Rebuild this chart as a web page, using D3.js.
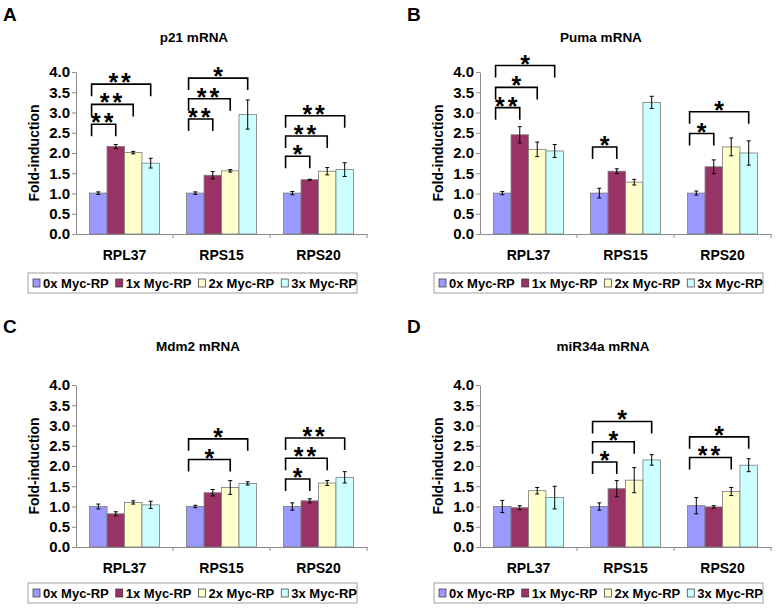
<!DOCTYPE html>
<html><head><meta charset="utf-8">
<script src="https://cdn.jsdelivr.net/npm/d3@7"></script>
<style>
html,body{margin:0;padding:0;background:#fff;}
svg text{font-family:"Liberation Sans",Arial,Helvetica,sans-serif;font-weight:bold;fill:#000;}
</style></head>
<body><svg id="c" width="777" height="608"></svg>
<script>
const categories = ["RPL37", "RPS15", "RPS20"];
const seriesNames = ["0x Myc-RP", "1x Myc-RP", "2x Myc-RP", "3x Myc-RP"];
const seriesColors = ["#9999ff", "#993366", "#ffffcc", "#ccffff"];
const yTicks = [0, 0.5, 1.0, 1.5, 2.0, 2.5, 3.0, 3.5, 4.0];

// values per category: [0x, 1x, 2x, 3x]
const p21Values = [[1.01, 2.16, 2.01, 1.75], [1.01, 1.45, 1.56, 2.95], [1.01, 1.34, 1.55, 1.59]];
const p21Errors = [[0.03, 0.05, 0.03, 0.12], [0.03, 0.09, 0.03, 0.36], [0.04, 0.01, 0.09, 0.17]];
// significance: [category index, compared series index, bracket level, label]
const p21Sig = [[0, 1, 2.71, "**"], [0, 2, 3.2, "**"], [0, 3, 3.7, "**"],
                [1, 1, 2.84, "**"], [1, 2, 3.34, "**"], [1, 3, 3.85, "*"],
                [2, 1, 1.92, "*"], [2, 2, 2.42, "**"], [2, 3, 2.92, "**"]];

const pumaValues = [[1.01, 2.45, 2.09, 2.05], [1.01, 1.55, 1.28, 3.25], [1.01, 1.66, 2.15, 2.0]];
const pumaErrors = [[0.04, 0.2, 0.18, 0.16], [0.12, 0.06, 0.07, 0.15], [0.05, 0.17, 0.22, 0.3]];
const pumaSig = [[0, 1, 3.12, "**"], [0, 2, 3.62, "*"], [0, 3, 4.16, "*"],
                 [1, 1, 2.15, "*"],
                 [2, 1, 2.48, "*"], [2, 3, 3.02, "*"]];

const mdm2Values = [[1.0, 0.82, 1.10, 1.04], [1.0, 1.34, 1.47, 1.57], [1.0, 1.14, 1.58, 1.72]];
const mdm2Errors = [[0.06, 0.05, 0.04, 0.09], [0.03, 0.08, 0.17, 0.04], [0.09, 0.05, 0.06, 0.14]];
const mdm2Sig = [[1, 2, 2.16, "*"], [1, 3, 2.67, "*"],
                 [2, 1, 1.68, "*"], [2, 2, 2.19, "**"], [2, 3, 2.69, "**"]];

const mirValues = [[1.0, 0.97, 1.39, 1.22], [1.0, 1.44, 1.65, 2.15], [1.02, 0.99, 1.37, 2.02]];
const mirErrors = [[0.15, 0.05, 0.08, 0.28], [0.09, 0.2, 0.31, 0.13], [0.2, 0.03, 0.1, 0.16]];
const mirSig = [[1, 1, 2.1, "*"], [1, 2, 2.6, "*"], [1, 3, 3.1, "*"],
                [2, 2, 2.21, "**"], [2, 3, 2.72, "*"]];

const panels = [
  {letter: "A", title: "p21 mRNA", values: p21Values, errors: p21Errors, sig: p21Sig,
   x0: 76, x1: 367, yTop: 72, yBot: 234, lx: 3, ly: 21, tx: 194, ty: 42, leg: [28, 273, 329, 20]},
  {letter: "B", title: "Puma mRNA", values: pumaValues, errors: pumaErrors, sig: pumaSig,
   x0: 480, x1: 771, yTop: 72, yBot: 234, lx: 407, ly: 21, tx: 601, ty: 42, leg: [434, 273, 329, 20]},
  {letter: "C", title: "Mdm2 mRNA", values: mdm2Values, errors: mdm2Errors, sig: mdm2Sig,
   x0: 76, x1: 367, yTop: 385, yBot: 547, lx: 3, ly: 333, tx: 198, ty: 351, leg: [28, 583, 329, 20]},
  {letter: "D", title: "miR34a mRNA", values: mirValues, errors: mirErrors, sig: mirSig,
   x0: 480, x1: 771, yTop: 385, yBot: 547, lx: 407, ly: 333, tx: 603, ty: 351, leg: [434, 583, 329, 20]}
];

const svg = d3.select("#c");
const axisColor = "#8c8c8c";

panels.forEach(p => {
  const g = svg.append("g");
  const y = d3.scaleLinear().domain([0, 4]).range([p.yBot, p.yTop]);
  const x0 = d3.scaleBand().domain(categories).range([p.x0, p.x1]).paddingInner(0).paddingOuter(0);
  const inset = x0.bandwidth() * 0.14;
  const x1 = d3.scaleBand().domain(d3.range(seriesNames.length)).range([inset, x0.bandwidth() - inset]).padding(0);

  // panel letter
  g.append("text").attr("x", p.lx).attr("y", p.ly).attr("font-size", 19).text(p.letter);
  // title
  g.append("text").attr("x", p.tx).attr("y", p.ty).attr("text-anchor", "middle").attr("font-size", 13.5).text(p.title);

  // y axis
  const ya = g.append("g").attr("transform", `translate(${p.x0},0)`)
    .call(d3.axisLeft(y).tickValues(yTicks).tickFormat(d3.format(".1f")).tickSize(4).tickSizeOuter(0));
  ya.select(".domain").attr("stroke", axisColor);
  ya.selectAll(".tick line").attr("stroke", axisColor);
  ya.selectAll(".tick text").attr("font-size", 15).attr("font-family", '"Liberation Sans",Arial,sans-serif')
    .attr("font-weight", "bold").attr("fill", "#000").attr("x", -6);

  // x axis
  const xa = g.append("g").attr("transform", `translate(0,${p.yBot})`)
    .call(d3.axisBottom(x0).tickSize(0).tickSizeOuter(0).tickPadding(16));
  xa.select(".domain").attr("stroke", axisColor);
  xa.selectAll(".tick text").attr("font-size", 14).attr("font-family", '"Liberation Sans",Arial,sans-serif')
    .attr("font-weight", "bold").attr("fill", "#000");
  g.selectAll(".bnd").data(categories).enter().append("line")
    .attr("x1", d => x0(d) + x0.bandwidth()).attr("x2", d => x0(d) + x0.bandwidth())
    .attr("y1", p.yBot).attr("y2", p.yBot + 4).attr("stroke", axisColor);

  // y label
  g.append("text").attr("transform", `translate(${p.x0 - 37},${(p.yTop + p.yBot) / 2}) rotate(-90)`)
    .attr("text-anchor", "middle").attr("font-size", 14).text("Fold-induction");

  // bars
  categories.forEach((c, ci) => {
    const cg = g.append("g").attr("transform", `translate(${x0(c)},0)`);
    const vals = p.values[ci].map((v, si) => ({v, e: p.errors[ci][si], si}));
    cg.selectAll("rect").data(vals).enter().append("rect")
      .attr("x", d => x1(d.si)).attr("width", x1.bandwidth())
      .attr("y", d => y(d.v)).attr("height", d => y(0) - y(d.v))
      .attr("fill", d => seriesColors[d.si]).attr("stroke", "#7a7a7a").attr("stroke-width", 0.8);
    const eb = cg.selectAll("g.eb").data(vals).enter().append("g").attr("class", "eb");
    eb.append("line").attr("x1", d => x1(d.si) + x1.bandwidth() / 2).attr("x2", d => x1(d.si) + x1.bandwidth() / 2)
      .attr("y1", d => y(d.v + d.e)).attr("y2", d => y(d.v - d.e)).attr("stroke", "#000").attr("stroke-width", 1);
    ["+", "-"].forEach(sgn => {
      eb.append("line").attr("x1", d => x1(d.si) + x1.bandwidth() / 2 - 2).attr("x2", d => x1(d.si) + x1.bandwidth() / 2 + 2)
        .attr("y1", d => y(sgn === "+" ? d.v + d.e : d.v - d.e)).attr("y2", d => y(sgn === "+" ? d.v + d.e : d.v - d.e))
        .attr("stroke", "#000").attr("stroke-width", 1);
    });
  });

  // significance brackets
  p.sig.forEach(([ci, si, lvl, lab]) => {
    const base = x0(categories[ci]);
    const xl = base + x1(0) + 2;
    const xr = base + x1(si) + x1.bandwidth() / 2;
    const yl = y(lvl);
    g.append("path").attr("d", `M${xl},${yl + 12}V${yl}H${xr}V${yl + 12}`)
      .attr("fill", "none").attr("stroke", "#000").attr("stroke-width", 1.6);
    g.append("text").attr("x", (xl + xr) / 2).attr("y", yl + 7).attr("text-anchor", "middle")
      .attr("font-size", 25).attr("letter-spacing", lab.length > 1 ? 3 : 0).text(lab);
  });

  // legend
  const [lx, ly, lw, lh] = p.leg;
  const lg = g.append("g");
  lg.append("rect").attr("x", lx).attr("y", ly).attr("width", lw).attr("height", lh)
    .attr("fill", "#fff").attr("stroke", "#a0a0a0").attr("stroke-width", 1);
  let cx = lx + 5;
  seriesNames.forEach((s, si) => {
    lg.append("rect").attr("x", cx).attr("y", ly + 6).attr("width", 7).attr("height", 8)
      .attr("fill", seriesColors[si]).attr("stroke", "#333").attr("stroke-width", 0.7);
    const t = lg.append("text").attr("x", cx + 10).attr("y", ly + 15).attr("font-size", 13).text(s);
    cx += 10 + t.node().getComputedTextLength() + 7;
  });
});
</script></body></html>
